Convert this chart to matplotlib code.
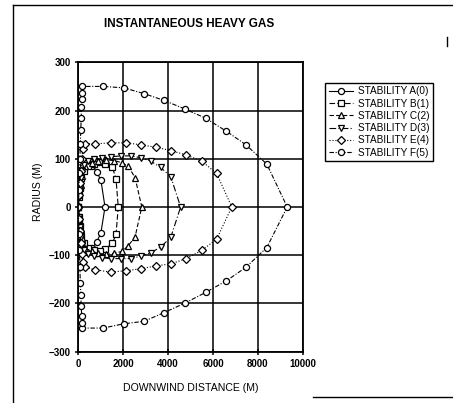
import numpy as np
import matplotlib
matplotlib.use('Agg')
import matplotlib.pyplot as plt
from matplotlib.lines import Line2D

plt.rcParams['font.family'] = ['Liberation Sans', 'DejaVu Sans']

# cloud edge contours (downwind distance, radius), traced round each cloud
a_x = [0, 40, 80, 130, 200, 375, 600, 820, 1010, 1190, 1010, 820, 600, 375, 200, 130, 80, 40, 0]
a_y = [0, 30, 55, 75, 88, 93, 86, 73, 55, 0, -53, -73, -86, -93, -88, -75, -55, -30, 0]

b_x = [0, 30, 70, 130, 250, 450, 700, 950, 1190, 1520, 1680, 1780,
       1680, 1520, 1190, 950, 700, 450, 250, 130, 70, 30, 0]
b_y = [0, 20, 40, 60, 75, 85, 90, 93, 90, 82, 59, 0,
       -57, -75, -88, -92, -90, -85, -75, -60, -40, -20, 0]

c_x = [0, 40, 100, 180, 300, 600, 900, 1250, 1600, 1950, 2230, 2530, 2830,
       2530, 2230, 1950, 1600, 1250, 900, 600, 300, 180, 100, 40, 0]
c_y = [0, 25, 45, 65, 85, 92, 96, 98, 96, 92, 84, 61, 0,
       -62, -80, -92, -96, -98, -96, -92, -85, -65, -45, -25, 0]

d_x = [0, 30, 60, 100, 150, 250, 450, 700, 1040, 1440, 1890, 2340, 2780, 3230, 3670, 4120, 4560,
       4120, 3670, 3230, 2780, 2340, 1890, 1440, 1040, 700, 450, 250, 150, 100, 60, 30, 0]
d_y = [0, 20, 40, 60, 75, 88, 96, 100, 102, 104, 106, 106, 102, 95, 82, 63, 0,
       -63, -83, -95, -102, -107, -107, -107, -105, -102, -97, -90, -78, -62, -42, -20, 0]

e_x = [0, 40, 80, 120, 160, 200, 300, 750, 1440, 2130, 2790, 3450, 4120, 4800, 5500, 6160, 6840,
       6160, 5500, 4800, 4120, 3450, 2790, 2130, 1440, 750, 300, 200, 160, 120, 80, 40, 0]
e_y = [0, 25, 50, 75, 100, 120, 131, 131, 133, 133, 129, 124, 117, 108, 95, 70, 0,
       -67, -90, -107, -118, -122, -128, -132, -135, -130, -125, -115, -98, -75, -50, -25, 0]

f_x = [0, 30, 50, 70, 90, 110, 130, 140, 150, 160, 180, 1110, 2040, 2930, 3820, 4760, 5680, 6600, 7470, 8400, 9310,
       8400, 7470, 6600, 5680, 4760, 3820, 2930, 2040, 1110, 180, 160, 150, 130, 110, 90, 70, 50, 30, 0]
f_y = [0, 35, 70, 100, 130, 160, 185, 208, 224, 237, 250, 250, 247, 235, 221, 203, 184, 157, 129, 89, 0,
       -84, -125, -153, -177, -199, -219, -237, -242, -251, -251, -240, -225, -205, -182, -158, -125, -90, -55, 0]

labels = ['STABILITY A(0)', 'STABILITY B(1)', 'STABILITY C(2)',
          'STABILITY D(3)', 'STABILITY E(4)', 'STABILITY F(5)']

series = [(a_x, a_y, 'o', '-'),
          (b_x, b_y, 's', (0, (5, 2))),
          (c_x, c_y, '^', (0, (4, 2))),
          (d_x, d_y, 'v', (0, (6, 2, 1, 2))),
          (e_x, e_y, 'D', ':'),
          (f_x, f_y, 'o', (0, (4, 1.5, 1, 1.5)))]

fig = plt.figure(figsize=(4.53, 4.03), dpi=100)
ax = fig.add_axes([78.3 / 453, 1 - 351.7 / 403, 224.4 / 453, 289.4 / 403])

for (x, y, m, ls), lab in zip(series, labels):
    ms = 3.8 if m == 'D' else 4.4
    ax.plot(x, y, color='black', lw=0.8, ls=ls, marker=m, ms=ms,
            mfc='white', mec='black', mew=0.9, label=lab)

ax.set_xlim(0, 10000)
ax.set_ylim(-300, 300)
ax.set_xticks(np.arange(0, 10001, 2000))
ax.set_yticks(np.arange(-300, 301, 100))
ax.grid(True, color='black', lw=1.1)
ax.set_axisbelow(True)
for s in ax.spines.values():
    s.set_linewidth(1.3)
ax.tick_params(direction='inout', length=5, width=1.1, labelsize=7, pad=3)
for t in ax.get_xticklabels() + ax.get_yticklabels():
    t.set_fontweight('bold')

fig.text(189 / 453, 1 - 24 / 403, 'INSTANTANEOUS HEAVY GAS', ha='center', va='center',
         fontsize=8.5, fontweight='bold')
fig.text(191 / 453, 1 - 388 / 403, 'DOWNWIND DISTANCE (M)', ha='center', va='center',
         fontsize=7.6)
fig.text(38 / 453, 1 - 192 / 403, 'RADIUS (M)', ha='center', va='center',
         fontsize=7.6, rotation=90)

leg = ax.legend(loc='upper left', bbox_to_anchor=(325 / 453, 1 - 83 / 403),
                bbox_transform=fig.transFigure, fontsize=7.2, frameon=True,
                fancybox=False, framealpha=1, edgecolor='black',
                handlelength=2.4, handletextpad=0.5, labelspacing=0.22,
                borderpad=0.35, borderaxespad=0)
leg.get_frame().set_linewidth(1.0)

# scanned page frame
W, H = 453, 403
for (x0, y0, x1, y1) in [(13, 5, 453, 5), (13, 5, 13, 403), (447, 37, 447, 46), (313, 397, 453, 397)]:
    fig.add_artist(Line2D([x0 / W, x1 / W], [1 - y0 / H, 1 - y1 / H],
                          transform=fig.transFigure, color='black', lw=1.0))

fig.savefig('out.png', dpi=100)
